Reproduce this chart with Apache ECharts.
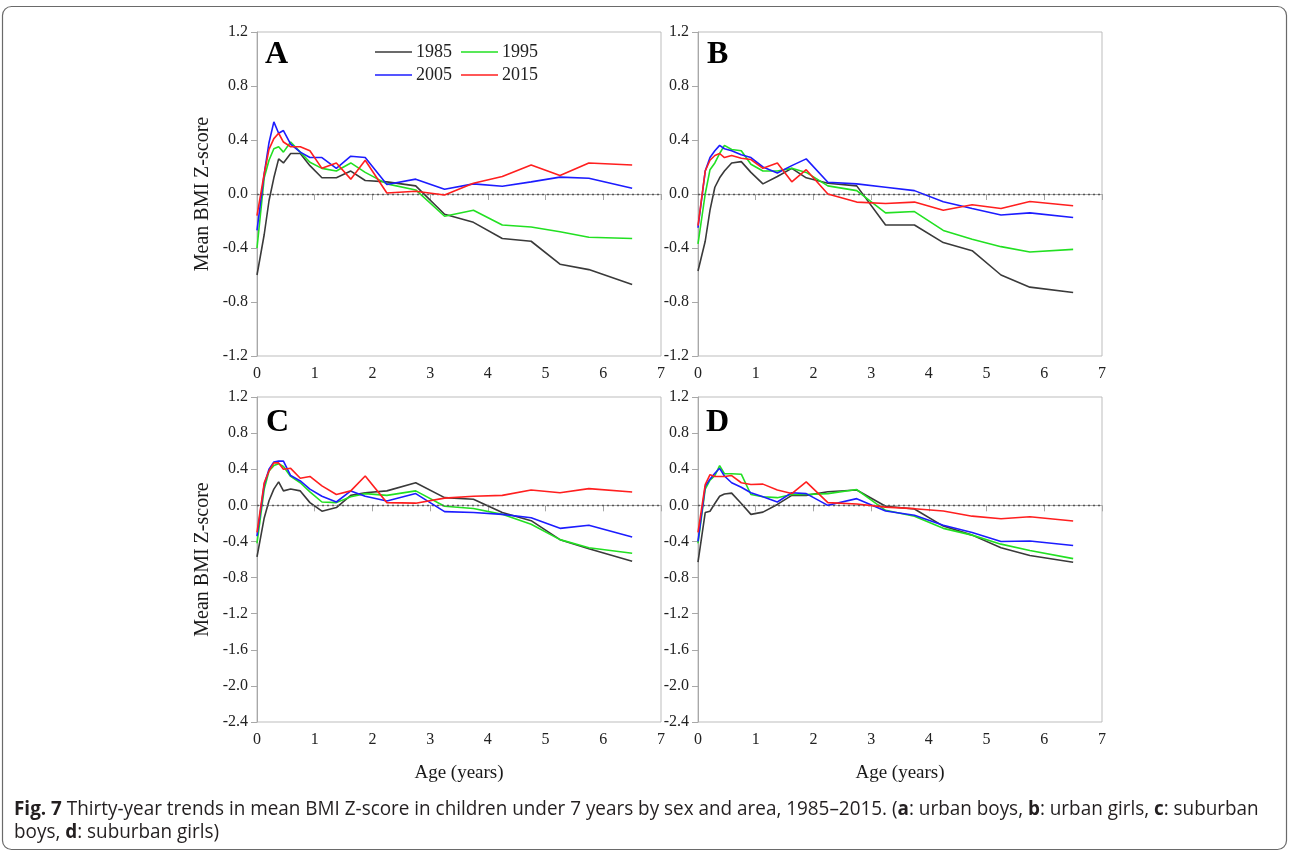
<!DOCTYPE html>
<html>
<head>
<meta charset="utf-8">
<script src="https://cdn.jsdelivr.net/npm/echarts@6/dist/echarts.min.js"></script>
<style>
  html, body { margin: 0; padding: 0; background: #ffffff; }
  #chart { width: 1290px; height: 854px; }
</style>
</head>
<body>
<div id="chart"></div>
<script>
// Age points (years) at which mean BMI Z-scores were computed
const ages = [0, 0.125, 0.208, 0.292, 0.375, 0.458, 0.583, 0.75, 0.917, 1.125, 1.375, 1.625, 1.875, 2.25, 2.75, 3.25, 3.75, 4.25, 4.75, 5.25, 5.75, 6.5];

const surveyYears = ['1985', '1995', '2005', '2015'];
const yearColors = ['#3a3a3a', '#22e022', '#1c1cff', '#ff1f1f'];

// A: urban boys
const urbanBoys1985 = [-0.60, -0.30, -0.05, 0.12, 0.26, 0.23, 0.30, 0.30, 0.21, 0.12, 0.12, 0.17, 0.10, 0.09, 0.06, -0.15, -0.21, -0.33, -0.35, -0.52, -0.56, -0.67];
const urbanBoys1995 = [-0.40, 0.12, 0.25, 0.335, 0.35, 0.31, 0.385, 0.31, 0.235, 0.19, 0.17, 0.23, 0.16, 0.075, 0.03, -0.165, -0.12, -0.23, -0.245, -0.28, -0.32, -0.33];
const urbanBoys2005 = [-0.27, 0.15, 0.38, 0.534, 0.45, 0.47, 0.37, 0.31, 0.27, 0.27, 0.19, 0.28, 0.27, 0.07, 0.11, 0.035, 0.075, 0.057, 0.09, 0.125, 0.117, 0.042];
const urbanBoys2015 = [-0.16, 0.15, 0.33, 0.41, 0.45, 0.385, 0.35, 0.35, 0.32, 0.19, 0.23, 0.11, 0.25, 0.007, 0.02, -0.007, 0.08, 0.13, 0.215, 0.137, 0.23, 0.215];

// B: urban girls
const urbanGirls1985 = [-0.57, -0.35, -0.12, 0.05, 0.12, 0.17, 0.23, 0.24, 0.16, 0.075, 0.13, 0.19, 0.12, 0.08, 0.06, -0.23, -0.23, -0.36, -0.42, -0.60, -0.69, -0.73];
const urbanGirls1995 = [-0.37, 0.0, 0.18, 0.23, 0.30, 0.36, 0.33, 0.32, 0.22, 0.17, 0.17, 0.19, 0.16, 0.06, 0.025, -0.14, -0.13, -0.27, -0.335, -0.39, -0.43, -0.41];
const urbanGirls2005 = [-0.25, 0.17, 0.27, 0.32, 0.36, 0.335, 0.32, 0.29, 0.27, 0.20, 0.156, 0.21, 0.26, 0.087, 0.075, 0.05, 0.025, -0.057, -0.107, -0.156, -0.14, -0.174];
const urbanGirls2015 = [-0.235, 0.17, 0.25, 0.285, 0.30, 0.27, 0.285, 0.265, 0.255, 0.19, 0.23, 0.09, 0.18, 0.0, -0.06, -0.07, -0.06, -0.12, -0.08, -0.107, -0.055, -0.087];

// C: suburban boys
const suburbanBoys1985 = [-0.57, -0.14, 0.05, 0.18, 0.26, 0.16, 0.18, 0.16, 0.03, -0.065, -0.025, 0.11, 0.14, 0.16, 0.25, 0.085, 0.067, -0.08, -0.17, -0.38, -0.48, -0.62];
const suburbanBoys1995 = [-0.42, 0.18, 0.38, 0.44, 0.46, 0.43, 0.32, 0.25, 0.15, 0.037, 0.03, 0.095, 0.13, 0.11, 0.16, -0.01, -0.035, -0.10, -0.21, -0.38, -0.47, -0.53];
const suburbanBoys2005 = [-0.34, 0.23, 0.40, 0.48, 0.49, 0.49, 0.33, 0.27, 0.18, 0.10, 0.037, 0.16, 0.10, 0.048, 0.13, -0.07, -0.08, -0.10, -0.137, -0.255, -0.22, -0.35];
const suburbanBoys2015 = [-0.30, 0.25, 0.38, 0.47, 0.47, 0.40, 0.41, 0.30, 0.32, 0.215, 0.12, 0.16, 0.325, 0.03, 0.024, 0.08, 0.10, 0.11, 0.17, 0.14, 0.185, 0.148];

// D: suburban girls
const suburbanGirls1985 = [-0.63, -0.08, -0.065, 0.02, 0.10, 0.125, 0.135, 0.02, -0.10, -0.075, 0.01, 0.11, 0.11, 0.15, 0.17, -0.01, -0.04, -0.23, -0.33, -0.47, -0.555, -0.63];
const suburbanGirls1995 = [-0.42, 0.18, 0.28, 0.33, 0.44, 0.35, 0.35, 0.345, 0.12, 0.095, 0.085, 0.12, 0.12, 0.13, 0.175, -0.055, -0.12, -0.255, -0.33, -0.43, -0.50, -0.59];
const suburbanGirls2005 = [-0.40, 0.21, 0.29, 0.355, 0.41, 0.325, 0.25, 0.20, 0.14, 0.096, 0.037, 0.14, 0.13, 0.0, 0.074, -0.063, -0.11, -0.22, -0.30, -0.40, -0.395, -0.445];
const suburbanGirls2015 = [-0.30, 0.23, 0.34, 0.32, 0.32, 0.32, 0.33, 0.25, 0.23, 0.235, 0.17, 0.13, 0.26, 0.03, 0.015, -0.02, -0.037, -0.063, -0.12, -0.148, -0.126, -0.174];

const panelLetters = ['A', 'B', 'C', 'D'];
const panelSeries = [
  [urbanBoys1985, urbanBoys1995, urbanBoys2005, urbanBoys2015],
  [urbanGirls1985, urbanGirls1995, urbanGirls2005, urbanGirls2015],
  [suburbanBoys1985, suburbanBoys1995, suburbanBoys2005, suburbanBoys2015],
  [suburbanGirls1985, suburbanGirls1995, suburbanGirls2005, suburbanGirls2015]
];
const yRanges = [[-1.2, 1.2], [-1.2, 1.2], [-2.4, 1.2], [-2.4, 1.2]];

const SERIF = '"Liberation Serif", "Times New Roman", serif';
const CAPTION_FONT = '"Open Sans", "Noto Sans", sans-serif';

const grids = [
  { left: 257, top: 32, width: 404, height: 324 },
  { left: 698, top: 32, width: 404, height: 324 },
  { left: 257, top: 397, width: 404, height: 325 },
  { left: 698, top: 397, width: 404, height: 325 }
].map(g => Object.assign({ show: true, borderColor: '#bdbdbd', borderWidth: 1, backgroundColor: 'transparent' }, g));

const axisGray = '#a8a8a8';

const xAxes = grids.map((g, i) => ({
  type: 'value', gridIndex: i, min: 0, max: 7, interval: 1,
  axisLine: { show: true, lineStyle: { color: axisGray, width: 1 } },
  axisTick: { show: true, inside: false, length: 6, lineStyle: { color: axisGray } },
  splitLine: { show: false },
  axisLabel: { margin: 10, color: '#222', fontFamily: SERIF, fontSize: 16 },
  name: i >= 2 ? 'Age (years)' : '',
  nameLocation: 'middle', nameGap: 42,
  nameTextStyle: { color: '#1a1a1a', fontFamily: SERIF, fontSize: 19 }
}));

const yAxes = grids.map((g, i) => ({
  type: 'value', gridIndex: i, min: yRanges[i][0], max: yRanges[i][1], interval: 0.4,
  axisLine: { show: true, lineStyle: { color: axisGray, width: 1 } },
  axisTick: { show: true, inside: false, length: 6, lineStyle: { color: axisGray } },
  splitLine: { show: false },
  axisLabel: {
    margin: 9, color: '#222', fontFamily: SERIF, fontSize: 16,
    formatter: v => (Math.abs(v) < 1e-9 ? 0 : v).toFixed(1)
  },
  name: (i % 2 === 0) ? 'Mean BMI Z-score' : '',
  nameLocation: 'middle', nameGap: 44,
  nameTextStyle: { color: '#1a1a1a', fontFamily: SERIF, fontSize: 20 }
}));

const series = [];
panelSeries.forEach((group, p) => {
  group.forEach((vals, k) => {
    const s = {
      type: 'line', name: surveyYears[k],
      xAxisIndex: p, yAxisIndex: p,
      data: ages.map((a, j) => [a, vals[j]]),
      showSymbol: false, symbol: 'none',
      lineStyle: { color: yearColors[k], width: 1.6 },
      itemStyle: { color: yearColors[k] },
      z: 3 + k,
      animation: false
    };
    if (k === 0) {
      s.markLine = {
        silent: true, symbol: 'none', animation: false,
        label: { show: false },
        lineStyle: { type: [2, 3], color: '#555', width: 1.3 },
        data: [{ yAxis: 0 }]
      };
    }
    series.push(s);
  });
});

const letterPos = [[265, 55], [707, 55], [266, 423], [706, 423]];
const captionRich = {
  b: { fontWeight: 'bold', fontFamily: CAPTION_FONT, fontSize: 20, fill: '#231f20' }
};
const graphic = [
  {
    type: 'rect', silent: true, z: -1,
    shape: { x: 2.5, y: 6.5, width: 1284, height: 843, r: 9 },
    style: { fill: 'none', stroke: '#6a6a6a', lineWidth: 1.2 }
  },
  ...panelLetters.map((t, i) => ({
    type: 'text', x: letterPos[i][0], y: letterPos[i][1], silent: true,
    style: {
      text: t, font: 'bold 32px ' + SERIF, fill: '#000',
      textAlign: 'left', textVerticalAlign: 'middle'
    }
  })),
  {
    type: 'text', x: 14, y: 809, scaleX: 0.945, silent: true,
    style: {
      text: '{b|Fig. 7} Thirty-year trends in mean BMI Z-score in children under 7 years by sex and area, 1985–2015. ({b|a}: urban boys, {b|b}: urban girls, {b|c}: suburban',
      textVerticalAlign: 'middle',
      font: '20px ' + CAPTION_FONT, fill: '#231f20',
      rich: captionRich
    }
  },
  {
    type: 'text', x: 14, y: 832, scaleX: 0.945, silent: true,
    style: {
      text: 'boys, {b|d}: suburban girls)',
      textVerticalAlign: 'middle',
      font: '20px ' + CAPTION_FONT, fill: '#231f20',
      rich: captionRich
    }
  }
];

const legendCommon = {
  orient: 'horizontal', icon: 'rect', itemWidth: 37, itemHeight: 1.6,
  itemGap: 9, selectedMode: false,
  textStyle: { fontFamily: SERIF, fontSize: 18, color: '#222', padding: [0, 0, 0, -1] },
  padding: 0
};

const chart = echarts.init(document.getElementById('chart'), null, { renderer: 'canvas' });
chart.setOption({
  animation: false,
  backgroundColor: '#ffffff',
  grid: grids,
  xAxis: xAxes,
  yAxis: yAxes,
  legend: [
    Object.assign({ left: 375, top: 43, data: ['1985', '1995'] }, legendCommon),
    Object.assign({ left: 375, top: 66, data: ['2005', '2015'] }, legendCommon)
  ],
  graphic: graphic,
  series: series
});
</script>
</body>
</html>
